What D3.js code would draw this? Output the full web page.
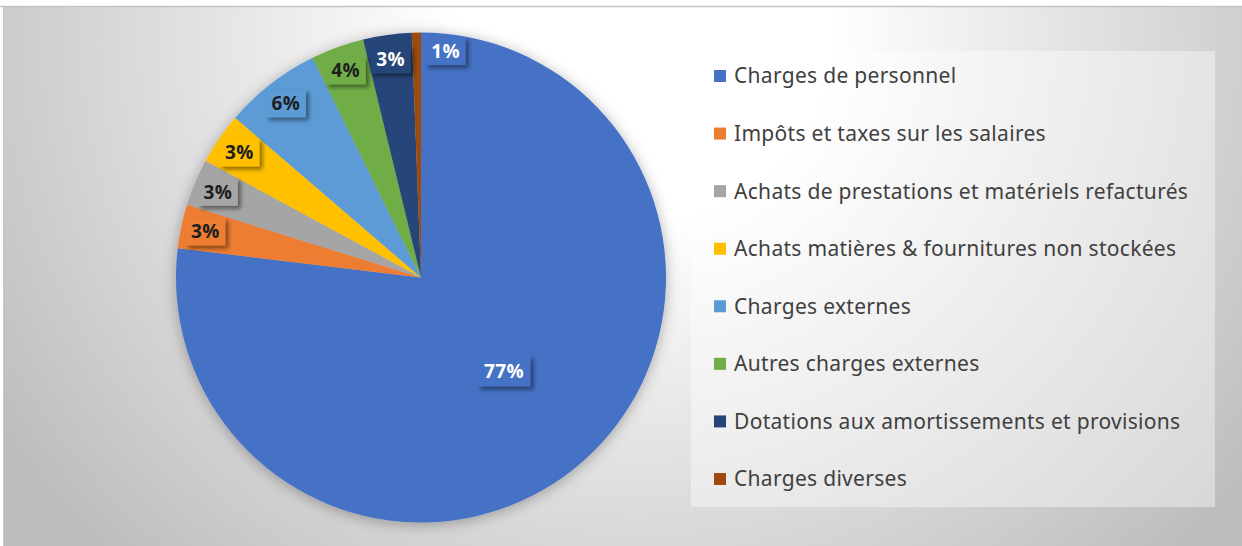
<!DOCTYPE html>
<html>
<head>
<meta charset="utf-8">
<script src="https://cdn.jsdelivr.net/npm/d3@7"></script>
<style>
  body { margin: 0; background: #fff; }
  svg { display: block; }
</style>
</head>
<body>
<svg id="chart" width="1242" height="546"></svg>
<script>
// chart data
let categories = [
  "Charges de personnel",
  "Impôts et taxes sur les salaires",
  "Achats de prestations et matériels refacturés",
  "Achats matières & fournitures non stockées",
  "Charges externes",
  "Autres charges externes",
  "Dotations aux amortissements et provisions",
  "Charges diverses"
]
let shares = [76.9, 2.9, 3.1, 3.4, 6.4, 3.5, 3.2, 0.6]
let sliceColors = ["#4472C4", "#ED7D31", "#A5A5A5", "#FFC000", "#5B9BD5", "#70AD47", "#264478", "#9E480E"]
let labelTextColors = ["#fff", "#1e1e1e", "#1e1e1e", "#1e1e1e", "#1e1e1e", "#1e1e1e", "#fff", "#fff"]

let W = 1242, H = 546
let cx = 421, cy = 277.5, radius = 245

let svg = d3.select('svg#chart')
let defs = svg.append('defs')

// background gradient
let bg = defs.append('radialGradient')
  .attr('id', 'bgGrad')
  .attr('gradientUnits', 'userSpaceOnUse')
  .attr('cx', 640).attr('cy', 40).attr('r', 760)
  .attr('gradientTransform', 'translate(640,40) scale(1,0.95) translate(-640,-40)')
bg.append('stop').attr('offset', 0).attr('stop-color', '#ffffff')
bg.append('stop').attr('offset', 0.25).attr('stop-color', '#ffffff')
bg.append('stop').attr('offset', 1).attr('stop-color', '#bdbdbd')

// soft shadow around the pie
let pieShadow = defs.append('filter').attr('id', 'pieShadow')
  .attr('x', '-20%').attr('y', '-20%').attr('width', '140%').attr('height', '140%')
pieShadow.append('feDropShadow')
  .attr('dx', 0).attr('dy', 2).attr('stdDeviation', 7)
  .attr('flood-color', '#000').attr('flood-opacity', 0.3)

// shadow for label boxes
let boxShadow = defs.append('filter').attr('id', 'boxShadow')
  .attr('x', '-30%').attr('y', '-30%').attr('width', '170%').attr('height', '170%')
boxShadow.append('feDropShadow')
  .attr('dx', 3).attr('dy', 3).attr('stdDeviation', 2)
  .attr('flood-color', '#000').attr('flood-opacity', 0.45)

// chart area
svg.append('rect')
  .attr('x', 3).attr('y', 6)
  .attr('width', W - 3).attr('height', H - 6)
  .attr('fill', 'url(#bgGrad)')
svg.append('line')
  .attr('x1', 0).attr('x2', W).attr('y1', 6.5).attr('y2', 6.5)
  .attr('stroke', '#c4c4c4').attr('stroke-width', 1.5)
svg.append('line')
  .attr('x1', 3.5).attr('x2', 3.5).attr('y1', 6).attr('y2', H)
  .attr('stroke', '#c8c8c8').attr('stroke-width', 1)

// pie
let pie = d3.pie().sort(null).value(d => d)
let arcs = pie(shares)
let arc = d3.arc().innerRadius(0).outerRadius(radius)

let color = d3.scaleOrdinal().domain(categories).range(sliceColors)

let graph = svg.append('g')
  .attr('transform', `translate(${cx}, ${cy})`)

graph.append('g')
  .attr('filter', 'url(#pieShadow)')
  .selectAll('path')
  .data(arcs)
  .enter()
  .append('path')
  .attr('d', arc)
  .attr('fill', (d, i) => color(categories[i]))

// data labels: big slice near the middle, small ones near the rim
let bigArc = d3.arc().innerRadius(radius * 0.51).outerRadius(radius * 0.51)
let rimArc = d3.arc().innerRadius(radius * 0.9).outerRadius(radius * 0.9)

let labels = arcs.map((d, i) => {
  let big = d.data > 50
  let c = big ? bigArc.centroid(d) : rimArc.centroid(d)
  let text = `${Math.round(d.data)}%`
  let w = big ? 53 : 40
  let h = big ? 31 : 28
  return {x: c[0], y: c[1], w, h, text, i}
})

// push a label clockwise if it overlaps the previous one
for (let k = 1; k < labels.length; k++) {
  let a = labels[k - 1], b = labels[k]
  let overlapX = Math.abs(a.x - b.x) < (a.w + b.w) / 2
  let overlapY = Math.abs(a.y - b.y) < (a.h + b.h) / 2
  if (overlapX && overlapY && arcs[k].data < 1) {
    b.x = a.x + (a.w + b.w) / 2 + 15
    b.y = b.y - 6
  }
}

// the label box takes the colour of the slice it sits on
let sliceAt = (x, y) => {
  let ang = Math.atan2(x, -y)
  if (ang < 0) ang += 2 * Math.PI
  let hit = arcs.find(a => ang >= a.startAngle && ang < a.endAngle)
  return hit ? hit.index : 0
}

let labelG = graph.selectAll('g.lbl')
  .data(labels)
  .enter()
  .append('g')
  .attr('class', 'lbl')
  .attr('transform', d => `translate(${d.x}, ${d.y})`)

labelG.append('rect')
  .attr('x', d => -d.w / 2)
  .attr('y', d => -d.h / 2)
  .attr('width', d => d.w)
  .attr('height', d => d.h)
  .attr('fill', d => sliceColors[sliceAt(d.x, d.y)])
  .attr('filter', 'url(#boxShadow)')

labelG.append('text')
  .attr('text-anchor', 'middle')
  .attr('dy', '0.36em')
  .attr('font-family', 'Open Sans, Noto Sans, sans-serif')
  .attr('font-weight', 'bold')
  .attr('font-size', 19)
  .attr('letter-spacing', 0.4)
  .attr('fill', d => labelTextColors[d.i])
  .text(d => d.text)

// legend
let legendBox = {x: 691, y: 51, w: 524, h: 456}
svg.append('rect')
  .attr('x', legendBox.x).attr('y', legendBox.y)
  .attr('width', legendBox.w).attr('height', legendBox.h)
  .attr('fill', '#ffffff').attr('fill-opacity', 0.4)

let rowScale = d3.scalePoint()
  .domain(categories)
  .range([76, 479])

let legend = svg.append('g')
  .selectAll('g')
  .data(categories)
  .enter()
  .append('g')
  .attr('transform', d => `translate(714, ${rowScale(d)})`)

legend.append('rect')
  .attr('x', 0).attr('y', -6)
  .attr('width', 12).attr('height', 12)
  .attr('fill', d => color(d))

legend.append('text')
  .attr('x', 20)
  .attr('dy', '0.35em')
  .attr('font-family', 'Noto Sans, sans-serif')
  .attr('font-size', 21)
  .attr('letter-spacing', 0.3)
  .attr('fill', '#404040')
  .text(d => d)
</script>
</body>
</html>
